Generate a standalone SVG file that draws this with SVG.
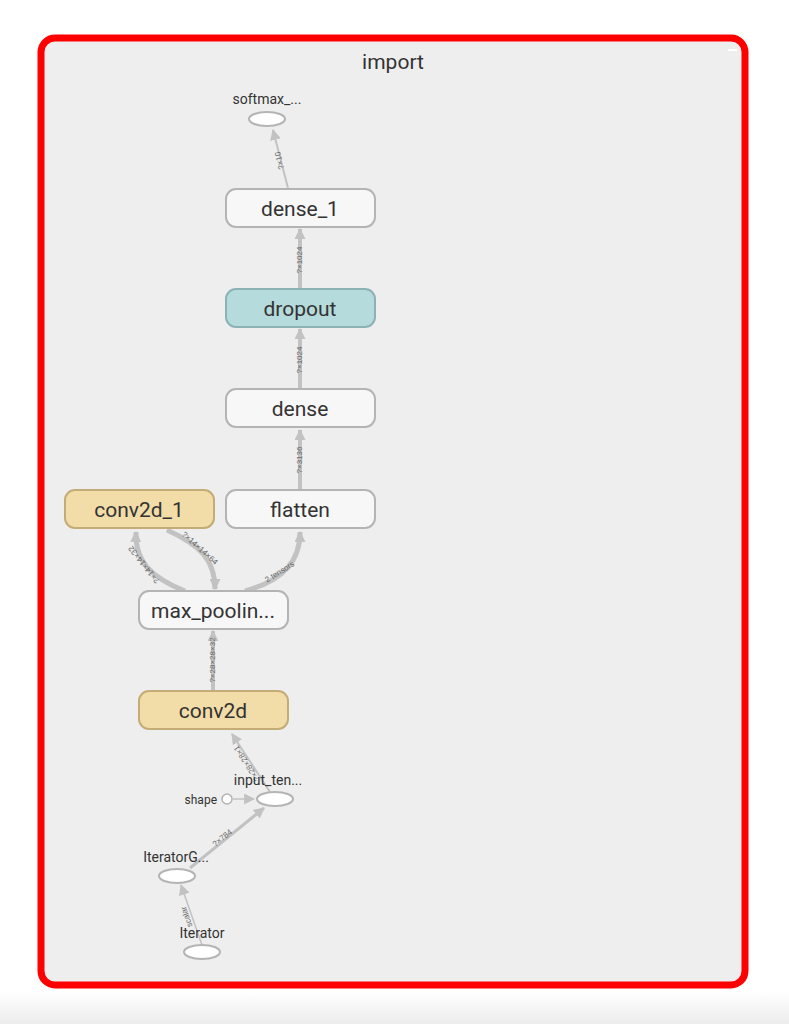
<svg xmlns="http://www.w3.org/2000/svg" width="789" height="1024" viewBox="0 0 789 1024">
<defs>
<linearGradient id="fade" x1="0" y1="0" x2="0" y2="1">
<stop offset="0" stop-color="#ffffff"/>
<stop offset="1" stop-color="#ececec"/>
</linearGradient>
<marker id="arr" viewBox="0 0 10 10" refX="9" refY="5" markerWidth="11" markerHeight="11" markerUnits="userSpaceOnUse" orient="auto">
<path d="M0,0 L10,5 L0,10 z" fill="#c2c2c2"/>
</marker>
<marker id="arrS" viewBox="0 0 10 10" refX="9" refY="5" markerWidth="9" markerHeight="9" markerUnits="userSpaceOnUse" orient="auto">
<path d="M0,0 L10,5 L0,10 z" fill="#b0b0b0"/>
</marker>
</defs>
<style>
.op rect{fill:#f7f7f7;stroke:#b4b4b4;stroke-width:2}
.conv rect{fill:#f2dca8;stroke:#c4ac76}
.drop rect{fill:#b6dbdc;stroke:#8cb2b3}
.nl{font-family:Roboto,"Liberation Sans",sans-serif;font-size:21px;fill:#333;text-anchor:middle}
.sl{font-family:Roboto,"Liberation Sans",sans-serif;font-size:14px;fill:#333;text-anchor:middle}
.ell{fill:#ffffff;stroke:#b4b4b4;stroke-width:2}
.e{fill:none;stroke:#c2c2c2;marker-end:url(#arr)}
.el{font-family:"Liberation Sans",sans-serif;font-size:8px;fill:#666;text-anchor:middle}
</style>
<rect x="0" y="0" width="789" height="1024" fill="#ffffff"/>
<rect x="0" y="992" width="789" height="32" fill="url(#fade)"/>
<rect id="frame" x="41" y="38" width="704" height="947" rx="14" fill="#eeeeee" stroke="#ff0000" stroke-width="7"/>
<rect x="728" y="49" width="9" height="2" fill="#ffffff"/>
<text x="393" y="69" font-family="Roboto,'Liberation Sans',sans-serif" font-size="21" fill="#333" text-anchor="middle">import</text>

<g id="connectors">
<path class="e" d="M288 188 L273 130" stroke-width="2" marker-end="url(#arrS)"/>
<text class="el" transform="translate(282,160) rotate(-104)">?×10</text>
<path class="e" d="M300 289 L300 229" stroke-width="4"/>
<text class="el" transform="translate(302,260) rotate(-90)">?×1024</text>
<path class="e" d="M300 389 L300 329" stroke-width="4"/>
<text class="el" transform="translate(302,360) rotate(-90)">?×1024</text>
<path class="e" d="M300 490 L300 430" stroke-width="4"/>
<text class="el" transform="translate(302,460) rotate(-90)">?×3136</text>
<path class="e" d="M185 591 C152 578 135 562 136 532" stroke-width="5"/>
<text class="el" transform="translate(146,563) rotate(-128)">?×14×14×32</text>
<path class="e" d="M167 530 C200 545 215 560 215 589" stroke-width="5"/>
<text class="el" transform="translate(198,550) rotate(42)">?×14×14×64</text>
<path class="e" d="M245 591 C285 580 300 560 300 532" stroke-width="5"/>
<text class="el" transform="translate(281,574) rotate(-32)">2 tensors</text>
<path class="e" d="M213 691 L213 631" stroke-width="4"/>
<text class="el" transform="translate(215,660) rotate(-90)">?×28×28×32</text>
<path class="e" d="M270 792 L232 734" stroke-width="2" marker-end="url(#arrS)"/>
<text class="el" transform="translate(249,762) rotate(-123)">?×28×28×1</text>
<path class="e" d="M233 799 L254 799" stroke-width="1.5" marker-end="url(#arrS)"/>
<path class="e" d="M190 868 L264 808" stroke-width="3"/>
<text class="el" transform="translate(224,840) rotate(-39)">?×784</text>
<path class="e" d="M202 945 L181 885" stroke-width="1.5" marker-end="url(#arrS)"/>
<text class="el" transform="translate(189,916) rotate(-109)">scalar</text>
</g>

<g id="softmax">
<ellipse class="ell" cx="267" cy="119" rx="18" ry="7"/>
<text class="sl" x="267" y="104">softmax_...</text>
</g>
<g id="dense_1" class="op">
<rect x="226" y="189" width="149" height="38" rx="10"/>
<text class="nl" x="300" y="216">dense_1</text>
</g>
<g id="dropout" class="op drop">
<rect x="226" y="289" width="149" height="38" rx="10"/>
<text class="nl" x="300" y="316">dropout</text>
</g>
<g id="dense" class="op">
<rect x="226" y="389" width="149" height="38" rx="10"/>
<text class="nl" x="300" y="416">dense</text>
</g>
<g id="flatten" class="op">
<rect x="226" y="490" width="149" height="38" rx="10"/>
<text class="nl" x="300" y="517">flatten</text>
</g>
<g id="conv2d_1" class="op conv">
<rect x="65" y="490" width="149" height="38" rx="10"/>
<text class="nl" x="139" y="517">conv2d_1</text>
</g>
<g id="max_pooling" class="op">
<rect x="139" y="591" width="149" height="38" rx="10"/>
<text class="nl" x="213" y="618">max_poolin...</text>
</g>
<g id="conv2d" class="op conv">
<rect x="139" y="691" width="149" height="38" rx="10"/>
<text class="nl" x="213" y="718">conv2d</text>
</g>
<g id="input_tensor">
<ellipse class="ell" cx="275" cy="799" rx="18" ry="7"/>
<text class="sl" x="268" y="785">input_ten...</text>
</g>
<g id="shape">
<circle cx="227" cy="799" r="5" fill="#ffffff" stroke="#b4b4b4" stroke-width="1.5"/>
<text class="sl" x="217" y="804" style="text-anchor:end;font-size:12px">shape</text>
</g>
<g id="IteratorGetNext">
<ellipse class="ell" cx="177" cy="876" rx="18" ry="7"/>
<text class="sl" x="176" y="862">IteratorG...</text>
</g>
<g id="Iterator">
<ellipse class="ell" cx="202" cy="952" rx="18" ry="7"/>
<text class="sl" x="202" y="938">Iterator</text>
</g>
</svg>
